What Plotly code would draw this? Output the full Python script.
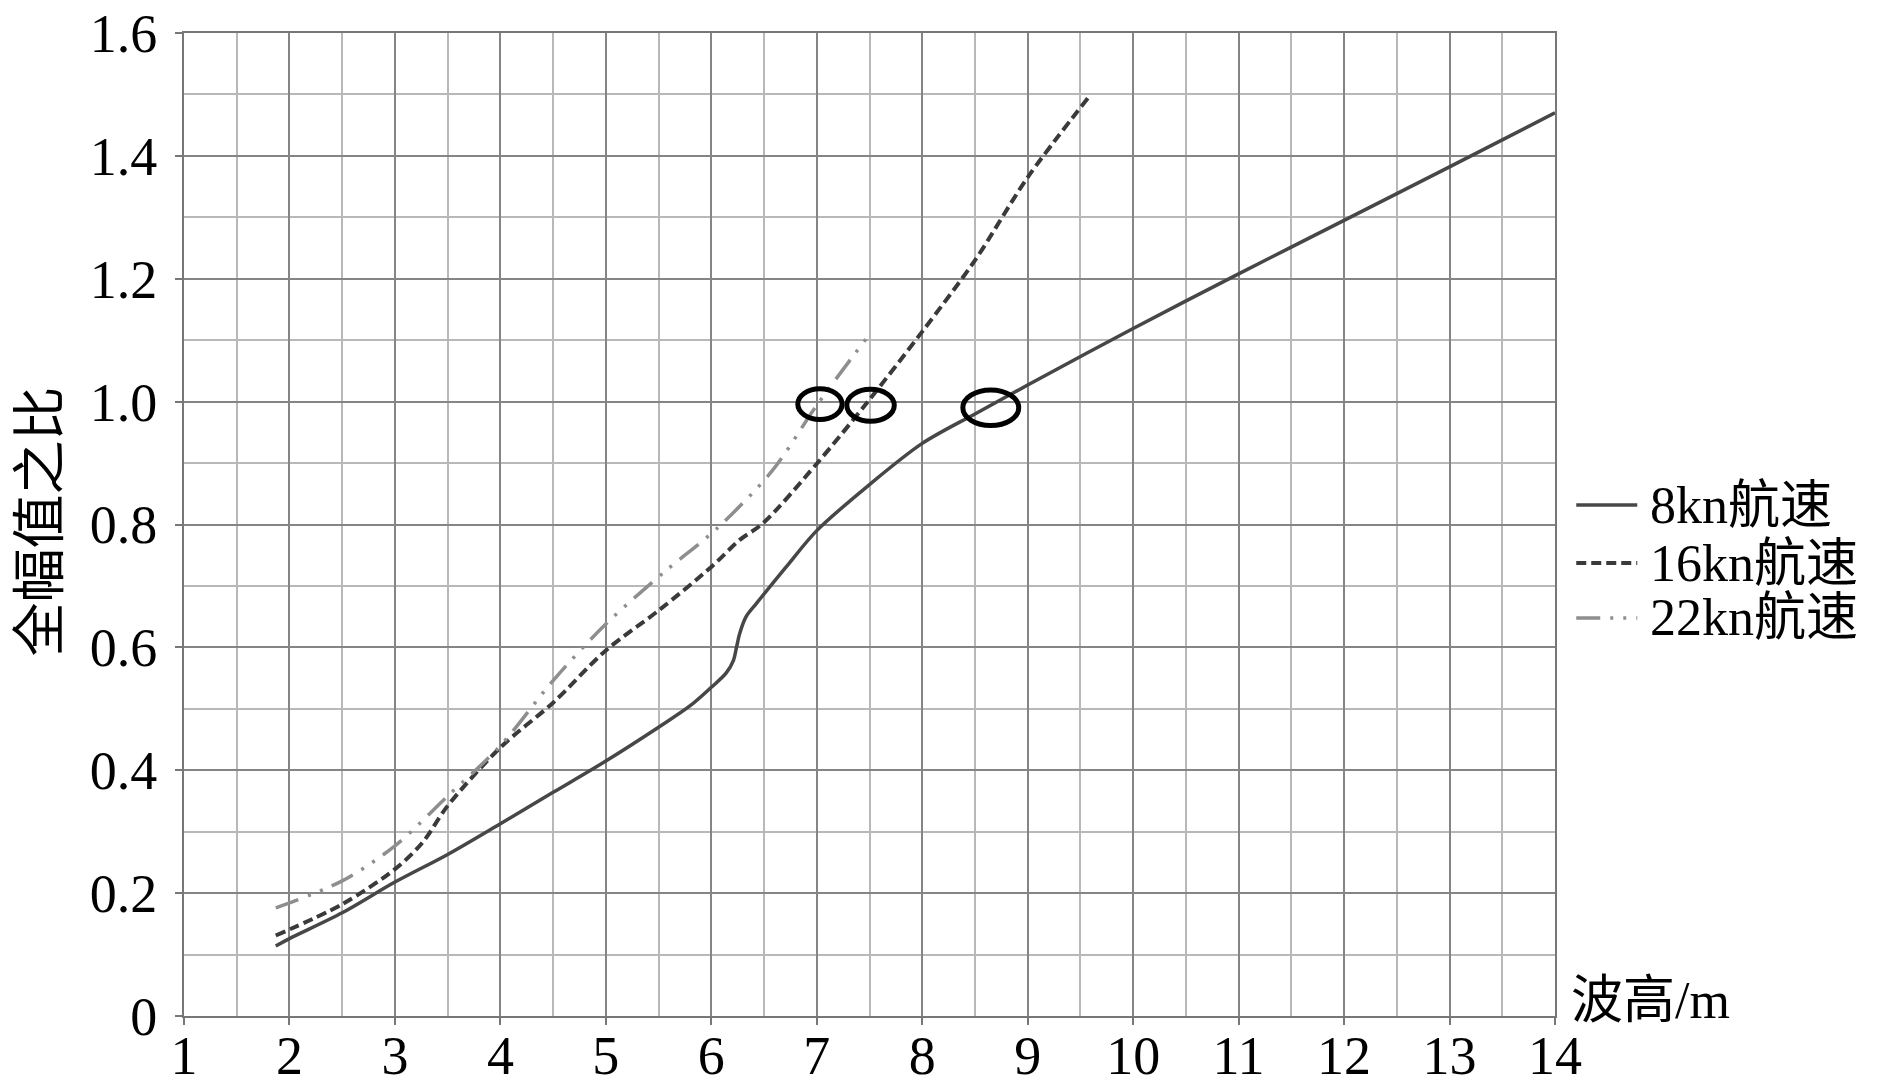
import plotly.graph_objects as go

# wave height (m) vs. ratio of full amplitude
x_8kn = [1.87, 2.0, 2.5, 3.0, 3.5, 4.0, 4.5, 5.0, 5.5, 5.8, 6.0, 6.14, 6.21, 6.24,
         6.27, 6.33, 6.43, 6.71, 7.0, 7.5, 8.0, 8.5, 9.0, 10.0, 11.0, 12.0, 13.0, 14.0]
y_8kn = [0.114, 0.126, 0.168, 0.218, 0.263, 0.313, 0.364, 0.415, 0.47, 0.505, 0.535,
         0.558, 0.579, 0.601, 0.623, 0.65, 0.672, 0.731, 0.79, 0.865, 0.932, 0.98,
         1.027, 1.119, 1.208, 1.295, 1.382, 1.47]

x_16kn = [1.87, 2.5, 3.0, 3.26, 3.5, 4.0, 4.5, 5.0, 5.5, 6.0, 6.27, 6.49, 7.0, 7.47,
          8.0, 8.5, 9.0, 9.58]
y_16kn = [0.131, 0.182, 0.239, 0.282, 0.342, 0.437, 0.51, 0.595, 0.66, 0.731, 0.775,
          0.802, 0.899, 0.997, 1.114, 1.23, 1.365, 1.496]

x_22kn = [1.87, 2.5, 3.0, 3.5, 4.0, 4.5, 5.0, 5.57, 6.05, 6.58, 7.0, 7.48]
y_22kn = [0.176, 0.22, 0.277, 0.358, 0.44, 0.546, 0.638, 0.725, 0.793, 0.888, 0.994, 1.105]

# hand-drawn ellipses marking where each curve reaches 1.0
mark_x = [7.03, 7.51, 8.65]
mark_y = [0.996, 0.994, 0.99]

series_names = ["8kn航速", "16kn航速", "22kn航速"]
x_ticks = list(range(1, 15))
y_ticks = [0, 0.2, 0.4, 0.6, 0.8, 1.0, 1.2, 1.4, 1.6]
y_ticktext = ["0", "0.2", "0.4", "0.6", "0.8", "1.0", "1.2", "1.4", "1.6"]

FONT = "Liberation Serif, 'Noto Sans CJK SC', serif"

styles = [
    dict(color="#474747", width=3.5, dash="solid"),
    dict(color="#3a3a3a", width=4, dash="10px,5px"),
    dict(color="#8e8e8e", width=3.5, dash="24px,10px,3px,10px,3px,10px"),
]
series = [(x_8kn, y_8kn), (x_16kn, y_16kn), (x_22kn, y_22kn)]

fig = go.Figure()
for (xs, ys), name, st in zip(series, series_names, styles):
    fig.add_trace(go.Scatter(x=xs, y=ys, name=name, mode="lines", showlegend=False,
                             line=dict(shape="spline", smoothing=0.9, **st)))

# ellipse half sizes (data units)
half_w = [0.21, 0.225, 0.265]
half_h = [0.025, 0.026, 0.029]
for cx, cy, rx, ry in zip(mark_x, mark_y, half_w, half_h):
    fig.add_shape(type="circle", xref="x", yref="y",
                  x0=cx - rx, x1=cx + rx, y0=cy - ry, y1=cy + ry,
                  line=dict(color="black", width=5))

axis_common = dict(showgrid=True, gridcolor="#858585", gridwidth=1.5,
                   showline=True, linecolor="#777777", linewidth=2, mirror=True,
                   ticks="outside", ticklen=7, tickcolor="#777777", tickwidth=2,
                   zeroline=False, automargin=False, ticklabeloverflow="allow",
                   tickfont=dict(family=FONT, size=54, color="black"))
fig.update_xaxes(range=[1, 14], tickvals=x_ticks, ticklabelstandoff=-16,
                 minor=dict(dtick=0.5, showgrid=True, gridcolor="#b8b8b8", gridwidth=1.5),
                 **axis_common)
fig.update_yaxes(range=[0, 1.6], tickvals=y_ticks, ticktext=y_ticktext,
                 ticklabelstandoff=7,
                 minor=dict(dtick=0.1, showgrid=True, gridcolor="#b8b8b8", gridwidth=1.5),
                 **axis_common)

fig.add_annotation(text="全幅值之比", xref="paper", yref="paper", x=0, y=0.503,
                   xanchor="center", yanchor="middle", xshift=-143, textangle=-90,
                   showarrow=False, font=dict(family=FONT, size=54, color="black"))
fig.add_annotation(text="波高/m", xref="paper", yref="paper", x=1, y=0,
                   xanchor="left", yanchor="middle", xshift=14, yshift=16,
                   showarrow=False, font=dict(family=FONT, size=52, color="black"))

# legend drawn by hand so the line samples are as long as in the original
leg_y = [0.5198, 0.4608, 0.4049]
for ly, name, st in zip(leg_y, series_names, styles):
    fig.add_shape(type="line", xref="paper", yref="paper",
                  x0=1.0155, x1=1.0600, y0=ly, y1=ly, line=st)
    fig.add_annotation(text=name, xref="paper", yref="paper", x=1.0675, y=ly,
                       xanchor="left", yanchor="middle", showarrow=False,
                       font=dict(family=FONT, size=52, color="black"))

# page body keeps an 8px margin, so the figure is drawn 8px smaller
fig.update_layout(
    width=1882, height=1079,
    margin=dict(l=176, r=335, t=25, b=71),
    plot_bgcolor="white", paper_bgcolor="white",
    showlegend=False,
)

fig.write_html("out.html")
